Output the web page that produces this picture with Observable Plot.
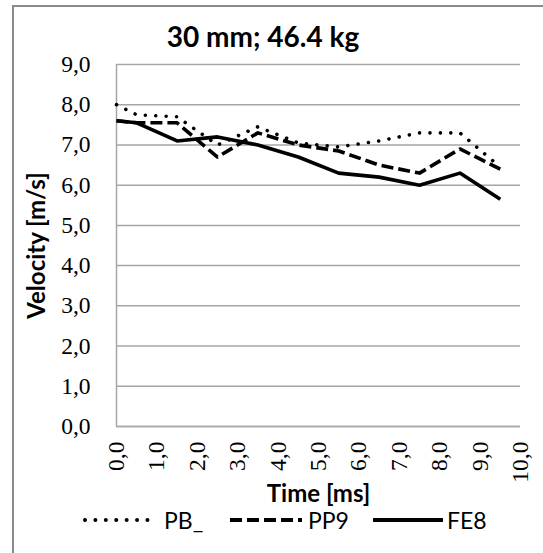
<!DOCTYPE html>
<html><head><meta charset="utf-8">
<script src="https://cdn.jsdelivr.net/npm/d3@7"></script>
<script src="https://cdn.jsdelivr.net/npm/@observablehq/plot@0.6"></script>
<style>
body{margin:0;width:543px;height:553px;overflow:hidden;background:#fff;position:relative;font-family:Lato,"Open Sans",sans-serif;color:#000;}
#frame{position:absolute;left:12px;top:5px;width:640px;height:640px;border:2px solid #8b8b8b;box-sizing:border-box;}
#title{position:absolute;left:0;width:526px;top:20px;text-align:center;font-weight:bold;font-size:28px;line-height:32px;}
#chart{position:absolute;left:0;top:40px;}
#chart svg g[aria-label="x-axis tick label"] text,
#chart svg g[aria-label="y-axis tick label"] text{font-family:"Liberation Serif",serif;font-size:23.5px;fill:#000;}
#chart svg g[aria-label="x-axis label"] text,
#chart svg g[aria-label="y-axis label"] text{font-family:Lato,sans-serif;font-size:24px;font-weight:bold;fill:#000;}
.legline{position:absolute;top:515px;}
.legtext{position:absolute;top:509px;height:23px;line-height:23px;font-size:23px;white-space:nowrap;}
</style>
</head><body>
<div id="frame"></div>
<div id="title">30 mm; 46.4 kg</div>
<div id="chart"></div>
<script>
// ---- data ----
const time = [0, 0.5, 1.5, 2.5, 3.5, 4.5, 5.5, 6.5, 7.5, 8.5, 9.5];
const seriesNames = ["PB_", "PP9", "FE8"];
const pbValues  = [8.0, 7.75, 7.7, 7.0, 7.45, 7.05, 6.95, 7.1, 7.3, 7.3, 6.45];
const pp9Values = [7.6, 7.55, 7.55, 6.7, 7.3, 7.0, 6.85, 6.5, 6.3, 6.9, 6.4];
const fe8Values = [7.6, 7.55, 7.1, 7.2, 7.0, 6.7, 6.3, 6.2, 6.0, 6.3, 5.65];
const xTicks = [0, 1, 2, 3, 4, 5, 6, 7, 8, 9, 10];
const yTicks = [0, 1, 2, 3, 4, 5, 6, 7, 8, 9];

const valuesBySeries = {"PB_": pbValues, "PP9": pp9Values, "FE8": fe8Values};
const rows = seriesNames.flatMap(s => time.map((t, i) => ({series: s, t, v: valuesBySeries[s][i]})));

const styles = {
  "PB_": {dash: "0.01 10.4", cap: "round", lineLeft: 85, lineWidth: 70, textLeft: 164},
  "PP9": {dash: "12 5", cap: "butt", lineLeft: 230, lineWidth: 72, textLeft: 308},
  "FE8": {dash: null, cap: "butt", lineLeft: 373, lineWidth: 70, textLeft: 447}
};
const fmt = d => d.toFixed(1).replace(".", ",");

const chart = Plot.plot({
  width: 543, height: 480,
  marginLeft: 116, marginRight: 23, marginTop: 24, marginBottom: 94,
  style: {background: "transparent", overflow: "visible"},
  x: {domain: [0, 10], ticks: xTicks, tickFormat: fmt, tickRotate: -90, tickSize: 0, tickPadding: 15,
      label: "Time [ms]", labelArrow: "none", labelAnchor: "center", labelOffset: 75},
  y: {domain: [0, 9], ticks: yTicks, tickFormat: fmt, tickSize: 0, tickPadding: 26,
      label: "Velocity [m/s]", labelArrow: "none", labelAnchor: "center", labelOffset: 89},
  marks: [
    Plot.gridY(yTicks, {stroke: "#a6a6a6", strokeOpacity: 1, strokeWidth: 1.5}),
    Plot.ruleX([0], {stroke: "#a6a6a6", strokeWidth: 1.5}),
    Plot.ruleY([0], {stroke: "#a6a6a6", strokeWidth: 1.5}),
    ...seriesNames.map(s => Plot.line(rows.filter(r => r.series === s), {
      x: "t", y: "v", stroke: "#000", strokeWidth: 3.6,
      strokeDasharray: styles[s].dash || undefined,
      strokeLinecap: styles[s].cap, strokeLinejoin: "round"
    }))
  ]
});
document.getElementById("chart").appendChild(chart);

// legend
seriesNames.forEach(s => {
  const st = styles[s];
  const l = document.createElement("div");
  l.className = "legline";
  l.style.left = (st.lineLeft - 2) + "px";
  const dash = st.dash ? `stroke-dasharray="${st.dash}"` : "";
  l.innerHTML = `<svg width="${st.lineWidth + 4}" height="10" style="display:block"><line x1="2" x2="${st.lineWidth + 2}" y1="5" y2="5" stroke="#000" stroke-width="4" stroke-linecap="${st.cap}" ${dash}/></svg>`;
  document.body.appendChild(l);
  const t = document.createElement("div");
  t.className = "legtext";
  t.style.left = st.textLeft + "px";
  t.textContent = s;
  document.body.appendChild(t);
});
</script>
</body></html>
